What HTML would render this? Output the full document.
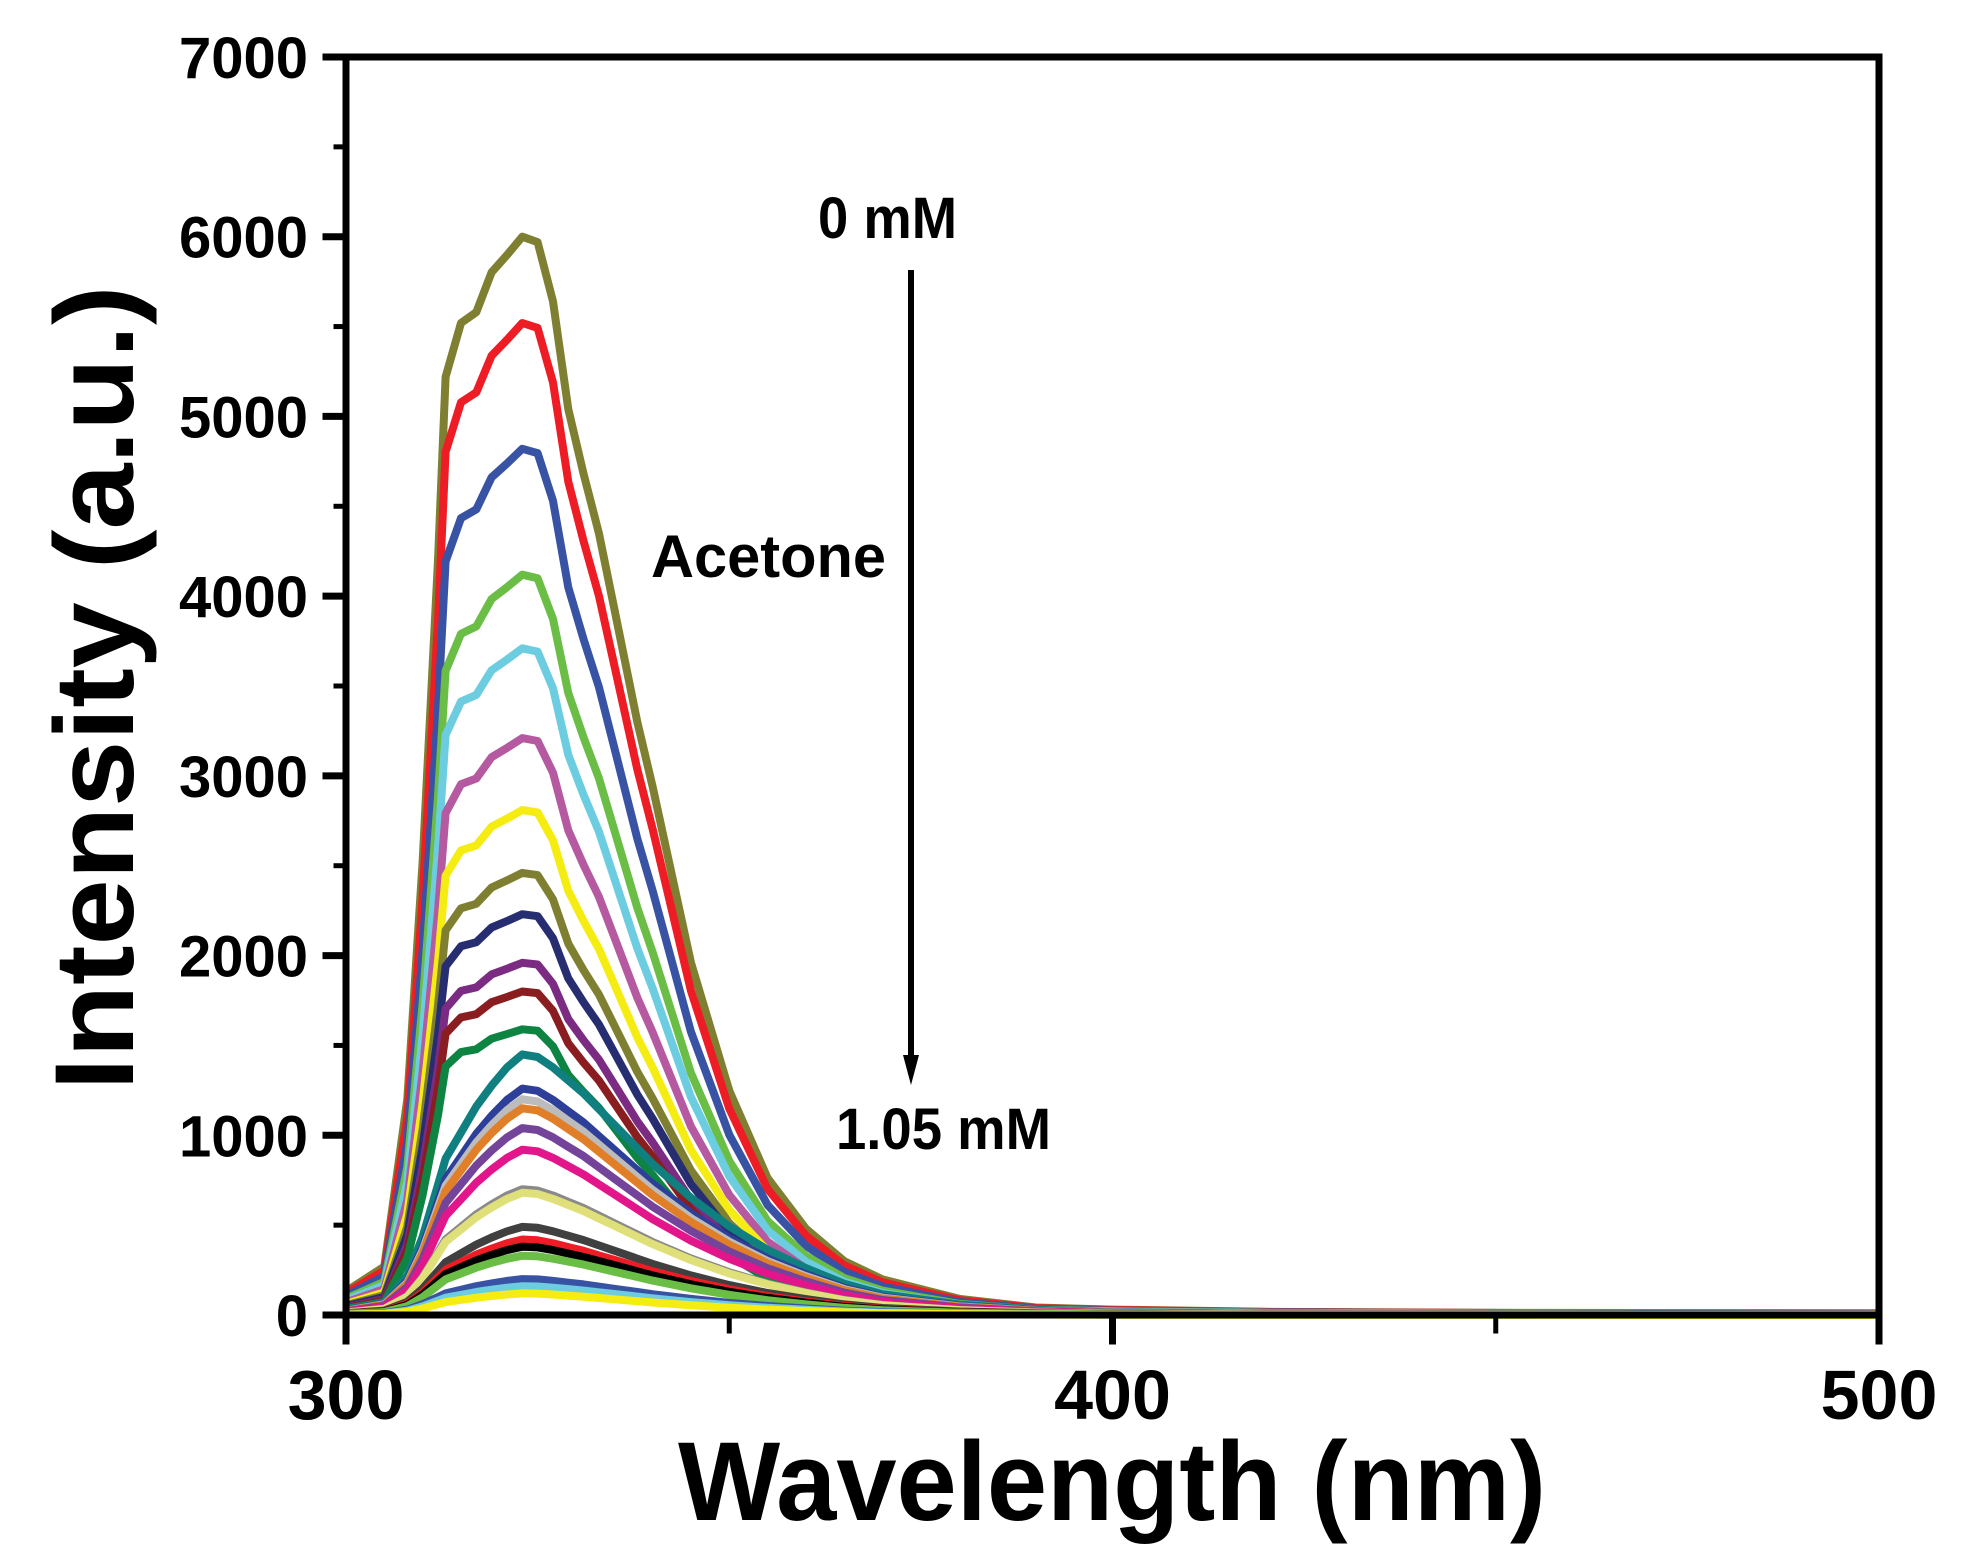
<!DOCTYPE html>
<html><head><meta charset="utf-8"><style>
html,body{margin:0;padding:0;background:#fff}
svg{display:block}
text{font-family:"Liberation Sans",Arial,sans-serif;font-weight:bold;fill:#000}
</style></head><body>
<svg id="chart" width="1976" height="1563" viewBox="0 0 1976 1563" xmlns="http://www.w3.org/2000/svg">
<g id="curves"></g>
<g id="axes"></g>
<text x="1112" y="1520" font-size="112" text-anchor="middle" textLength="868" lengthAdjust="spacingAndGlyphs">Wavelength (nm)</text>
<text transform="translate(133,688) rotate(-90)" font-size="112" text-anchor="middle" textLength="805" lengthAdjust="spacingAndGlyphs">Intensity (a.u.)</text>
<text x="818" y="238" font-size="58" textLength="139" lengthAdjust="spacingAndGlyphs">0 mM</text>
<text x="651" y="577" font-size="60" textLength="235" lengthAdjust="spacingAndGlyphs">Acetone</text>
<text x="836" y="1149" font-size="58" textLength="215" lengthAdjust="spacingAndGlyphs">1.05 mM</text>
<line x1="911" y1="270" x2="911" y2="1060" stroke="#000" stroke-width="6"/>
<polygon points="903,1055 919,1055 911,1085" fill="#000"/>
</svg>
<script>
const wavelengths = [300,305,308,310,312,313,315,317,319,321,323,325,327,329,331,333,335,338,340,345,350,355,360,365,370,380,390,400,420,450,500];
const highShape = [0.022,0.045,0.2,0.42,0.7,0.87,0.92,0.93,0.967,0.983,1.0,0.995,0.94,0.84,0.78,0.725,0.655,0.55,0.49,0.327,0.208,0.127,0.08,0.05,0.033,0.015,0.007,0.005,0.003,0.002,0.0016];
const lowShape = [0.02,0.05,0.15,0.3,0.5,0.6,0.7,0.8,0.88,0.95,1.0,0.99,0.95,0.9,0.85,0.79,0.73,0.64,0.58,0.45,0.34,0.25,0.18,0.12,0.08,0.04,0.02,0.01,0.005,0.003,0.002];
const peaks = [6000,5520,4820,4120,3710,3210,2810,2460,2230,1960,1800,1590,1450,1260,1200,1150,1040,920,700,680,490,420,380,330,200,160,120];
const colors = ["#7f7f32","#ee1c24","#3953a4","#6abd45","#6dcde0","#b55aa0","#f5ec12","#7f7f32","#262d70","#7b2b82","#8a1d1f","#0e8442","#0f7f7f","#2e3f99","#bcbcbc","#e07f27","#74449a","#e2158a","#8a8a8a","#e0e07a","#404040","#ee1c24","#000000","#6abd45","#3953a4","#6dcde0","#f5ec12"];
const yTicks = [0,1000,2000,3000,4000,5000,6000,7000];
const xTicks = [300,400,500];

const X0=346, X1=1879, Y0=1315, Y1=57;
const xs = w => X0 + (w-300)/200*(X1-X0);
const ys = v => Y0 - v/7000*(Y0-Y1);
const NS="http://www.w3.org/2000/svg";
const curves=document.getElementById('curves');
peaks.forEach((p,i)=>{
  const shape = p>1500 ? highShape : lowShape;
  const d = wavelengths.map((w,j)=>(j?'L':'M')+xs(w).toFixed(1)+','+ys(p*shape[j]).toFixed(1)).join(' ');
  const path=document.createElementNS(NS,'path');
  path.setAttribute('d',d);
  path.setAttribute('fill','none');
  path.setAttribute('stroke',colors[i]);
  path.setAttribute('stroke-width','8');
  path.setAttribute('stroke-linejoin','round');
  
  
  curves.appendChild(path);
});
const axes=document.getElementById('axes');
function line(x1,y1,x2,y2,w){const l=document.createElementNS(NS,'line');l.setAttribute('x1',x1);l.setAttribute('y1',y1);l.setAttribute('x2',x2);l.setAttribute('y2',y2);l.setAttribute('stroke','#000');l.setAttribute('stroke-width',w);l.setAttribute('stroke-linecap','square');axes.appendChild(l);return l;}
const frame=document.createElementNS(NS,'rect');
frame.setAttribute('x',X0);frame.setAttribute('y',Y1);frame.setAttribute('width',X1-X0);frame.setAttribute('height',Y0-Y1);
frame.setAttribute('fill','none');frame.setAttribute('stroke','#000');frame.setAttribute('stroke-width','7');


axes.appendChild(frame);
yTicks.forEach(v=>{
  const t=line(X0-20,ys(v),X0,ys(v),7);
  
  
  if(v<7000){const m=line(X0-10,ys(v+500),X0,ys(v+500),5);
  
  }
  const tx=document.createElementNS(NS,'text');
  tx.setAttribute('x',308);tx.setAttribute('y',ys(v)+21);tx.setAttribute('font-size','58');tx.setAttribute('text-anchor','end');
  tx.textContent=v;
  
  
  axes.appendChild(tx);
});
xTicks.forEach((w,i)=>{
  const t=line(xs(w),Y0,xs(w),Y0+26,7);
  
  
  if(i<xTicks.length-1){const m=line(xs(w+50),Y0,xs(w+50),Y0+16,5);
  
  }
  const tx=document.createElementNS(NS,'text');
  tx.setAttribute('x',xs(w));tx.setAttribute('y',1419);tx.setAttribute('font-size','70');tx.setAttribute('text-anchor','middle');
  tx.textContent=w;
  
  
  axes.appendChild(tx);
});
</script>
</body></html>
